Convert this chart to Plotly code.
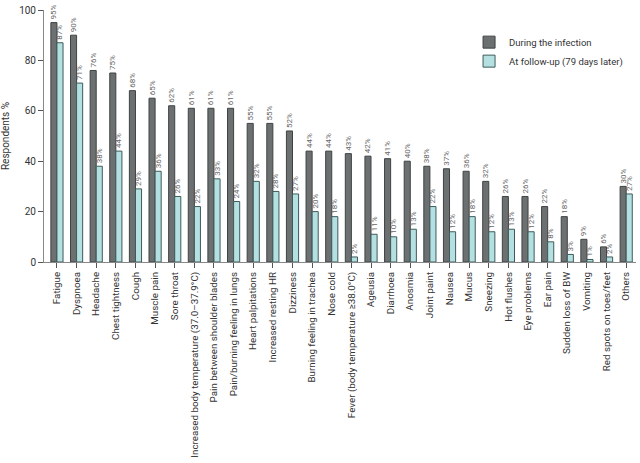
import plotly.graph_objects as go

categories = [
    "Fatigue", "Dyspnoea", "Headache", "Chest tightness", "Cough", "Muscle pain",
    "Sore throat", "Increased body temperature (37.0–37.9°C)",
    "Pain between shoulder blades", "Pain/burning feeling in lungs",
    "Heart palpitations", "Increased resting HR", "Dizziness",
    "Burning feeling in trachea", "Nose cold", "Fever (body temperature ≥38.0°C)",
    "Ageusia", "Diarrhoea", "Anosmia", "Joint paint", "Nausea", "Mucus",
    "Sneezing", "Hot flushes", "Eye problems", "Ear pain", "Sudden loss of BW",
    "Vomiting", "Red spots on toes/feet", "Others",
]
during = [95, 90, 76, 75, 68, 65, 62, 61, 61, 61, 55, 55, 52, 44, 44, 43, 42, 41,
          40, 38, 37, 36, 32, 26, 26, 22, 18, 9, 6, 30]
followup = [87, 71, 38, 44, 29, 36, 26, 22, 33, 24, 32, 28, 27, 20, 18, 2, 11, 10,
            13, 22, 12, 18, 12, 13, 12, 8, 3, 1, 2, 27]
y_ticks = [0, 20, 40, 60, 80, 100]

FONT = "Roboto"
x = list(range(len(categories)))

fig = go.Figure()
fig.add_trace(go.Bar(
    x=x, y=during, name="During the infection",
    marker=dict(color="#6c7070", line=dict(color="#3f4343", width=1)),
    text=[f"{v}%" for v in during], textposition="outside", textangle=-90,
    textfont=dict(size=8, color="#666666", family=FONT),
    constraintext="none", cliponaxis=False,
))
fig.add_trace(go.Bar(
    x=x, y=followup, name="At follow-up (79 days later)",
    marker=dict(color="#b5e0e1", line=dict(color="#3e5b5b", width=1)),
    text=[f"{v}%" for v in followup], textposition="outside", textangle=-90,
    textfont=dict(size=8, color="#666666", family=FONT),
    constraintext="none", cliponaxis=False,
))

fig.update_layout(
    width=640, height=463,
    margin=dict(l=44, r=4, t=10, b=201, autoexpand=False),
    paper_bgcolor="white", plot_bgcolor="white",
    barmode="group", bargap=0.38, bargroupgap=0.0,
    font=dict(family=FONT, size=9, color="#333333"),
    showlegend=True,
    legend=dict(x=0.718, y=0.93, xanchor="left", yanchor="top",
                font=dict(size=9.5, color="#333333", family=FONT),
                bgcolor="rgba(0,0,0,0)", itemwidth=30, tracegroupgap=4),
    xaxis=dict(
        tickmode="array", tickvals=x, ticktext=categories, tickangle=-90,
        range=[-0.66, len(categories) - 0.5], automargin=False,
        showline=True, linecolor="#888888", linewidth=1,
        ticks="outside", ticklen=5, tickcolor="#555555",
        showgrid=False, zeroline=False,
        tickfont=dict(size=9.8, color="#333333", family=FONT),
    ),
    yaxis=dict(
        range=[0, 100], tickvals=y_ticks, automargin=False,
        showline=True, linecolor="#888888", linewidth=1,
        ticks="outside", ticklen=5, tickcolor="#555555",
        showgrid=False, zeroline=False,
        title=dict(text="Respondents %", font=dict(size=10, color="#333333"), standoff=8),
        tickfont=dict(size=10, color="#333333", family=FONT),
    ),
)

fig.write_html("out.html", config={"displayModeBar": False},
               post_script="document.body.style.margin='0';document.body.style.overflow='hidden';")
